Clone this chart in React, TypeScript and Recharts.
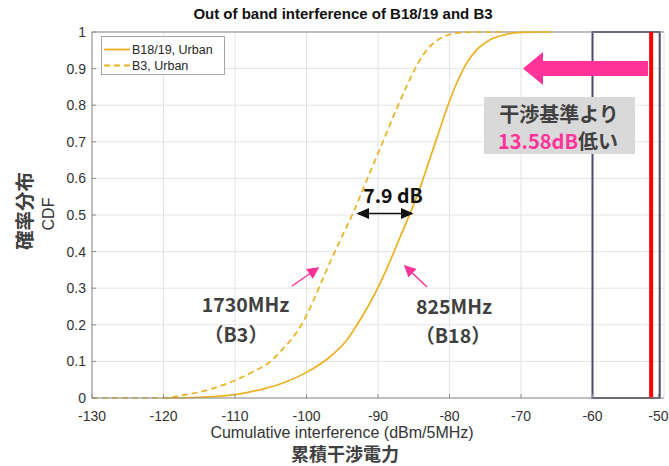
import React from "react";
import {
  LineChart,
  Line,
  XAxis,
  YAxis,
  CartesianGrid,
  ReferenceLine,
  ReferenceArea,
} from "recharts";

type CdfPoint = { x: number; cdf: number };

const xTicks = [-130, -120, -110, -100, -90, -80, -70, -60, -50];
const yTicks = [0, 0.1, 0.2, 0.3, 0.4, 0.5, 0.6, 0.7, 0.8, 0.9, 1];

// B18/19, Urban (825MHz)
const b18Urban: CdfPoint[] = [
  { x: -120, cdf: 0 },
  { x: -115, cdf: 0.002 },
  { x: -110, cdf: 0.009 },
  { x: -106, cdf: 0.025 },
  { x: -103, cdf: 0.043 },
  { x: -100, cdf: 0.07 },
  { x: -97, cdf: 0.108 },
  { x: -94.5, cdf: 0.155 },
  { x: -92.3, cdf: 0.22 },
  { x: -90.3, cdf: 0.29 },
  { x: -88.4, cdf: 0.37 },
  { x: -86.8, cdf: 0.445 },
  { x: -85.5, cdf: 0.505 },
  { x: -84.2, cdf: 0.57 },
  { x: -82.9, cdf: 0.645 },
  { x: -81.6, cdf: 0.72 },
  { x: -80.3, cdf: 0.795 },
  { x: -79, cdf: 0.86 },
  { x: -77.6, cdf: 0.915 },
  { x: -76, cdf: 0.955 },
  { x: -74.2, cdf: 0.98 },
  { x: -72, cdf: 0.994 },
  { x: -70, cdf: 0.999 },
  { x: -68, cdf: 1 },
  { x: -65.8, cdf: 1 },
];

// B3, Urban (1730MHz)
const b3Urban: CdfPoint[] = [
  { x: -130, cdf: 0 },
  { x: -120, cdf: 0 },
  { x: -117.5, cdf: 0.007 },
  { x: -115, cdf: 0.016 },
  { x: -112.5, cdf: 0.03 },
  { x: -110, cdf: 0.048 },
  { x: -107.5, cdf: 0.072 },
  { x: -105, cdf: 0.1 },
  { x: -103.5, cdf: 0.13 },
  { x: -102, cdf: 0.163 },
  { x: -100.7, cdf: 0.2 },
  { x: -99.3, cdf: 0.255 },
  { x: -98, cdf: 0.313 },
  { x: -96.5, cdf: 0.38 },
  { x: -95, cdf: 0.443 },
  { x: -93.5, cdf: 0.505 },
  { x: -92, cdf: 0.575 },
  { x: -90.5, cdf: 0.645 },
  { x: -89, cdf: 0.715 },
  { x: -87.4, cdf: 0.79 },
  { x: -85.8, cdf: 0.86 },
  { x: -84.4, cdf: 0.915 },
  { x: -83, cdf: 0.955 },
  { x: -81.5, cdf: 0.98 },
  { x: -80, cdf: 0.993 },
  { x: -78, cdf: 0.999 },
  { x: -76.5, cdf: 1 },
  { x: -72, cdf: 1 },
];

const limitLevel = -51.8; // 干渉基準

const seriesNames = ["B18/19, Urban", "B3, Urban"];
const lineColor = "#EDB120";
const axisColor = "#8c8c8c";
const tickFont = "'Liberation Sans', Arial, sans-serif";
const jpFont = "'Noto Sans CJK JP', 'Noto Sans', sans-serif";
const tickGap = 12;

const XTick = (props: any) => {
  const { x, y, payload } = props;
  const axisY = y - tickGap;
  return (
    <g>
      <line x1={x} x2={x} y1={axisY} y2={axisY - 4} stroke={axisColor} />
      <text x={x} y={y} dy="0.75em" textAnchor="middle" fontSize={14} fill="#333" fontFamily={tickFont}>
        {payload.value}
      </text>
    </g>
  );
};

const YTick = (props: any) => {
  const { x, y, payload } = props;
  const axisX = x + 6;
  return (
    <g>
      <line x1={axisX} x2={axisX + 4} y1={y} y2={y} stroke={axisColor} />
      <text x={x} y={y} dy="0.36em" textAnchor="end" fontSize={14} fill="#333" fontFamily={tickFont}>
        {payload.value}
      </text>
    </g>
  );
};

function Annotations() {
  const pink = "#FF3399";
  const dark = "#404040";
  return (
    <svg
      width={669}
      height={466}
      style={{ position: "absolute", left: 0, top: 0, pointerEvents: "none" }}
    >
      <defs>
        <marker id="blk" markerWidth="8" markerHeight="8" refX="7" refY="4" orient="auto-start-reverse">
          <path d="M0,0.5 L8,4 L0,7.5 z" fill="#111" />
        </marker>
        <marker id="pnk" markerWidth="8" markerHeight="8" refX="7" refY="4" orient="auto">
          <path d="M0,0 L8,4 L0,8 z" fill={pink} />
        </marker>
      </defs>

      {/* title */}
      <text x={343} y={19} textAnchor="middle" fontSize={15} fontWeight="bold" fill="#111" fontFamily={tickFont}>
        Out of band interference of B18/19 and B3
      </text>

      {/* legend */}
      <rect x={101.5} y={36.5} width={123} height={38} fill="#fff" stroke="#a6a6a6" />
      <line x1={104} x2={130} y1={49.5} y2={49.5} stroke={lineColor} strokeWidth={1.8} />
      <text x={132} y={53.8} fontSize={12.5} fill="#262626" fontFamily={tickFont}>{seriesNames[0]}</text>
      <line x1={104} x2={130} y1={65.5} y2={65.5} stroke={lineColor} strokeWidth={1.8} strokeDasharray="6 4" />
      <text x={132} y={69.8} fontSize={12.5} fill="#262626" fontFamily={tickFont}>{seriesNames[1]}</text>

      {/* axis labels */}
      <text x={342} y={438} textAnchor="middle" fontSize={16} fill="#333" fontFamily={tickFont}>
        Cumulative interference (dBm/5MHz)
      </text>
      <text x={345} y={461} textAnchor="middle" fontSize={18} fontWeight="bold" fill={dark} fontFamily={jpFont}>
        累積干渉電力
      </text>
      <text x={54} y={214} textAnchor="middle" fontSize={16} fill="#333" fontFamily={tickFont} transform="rotate(-90 54 214)">
        CDF
      </text>
      <text x={32} y={211} textAnchor="middle" fontSize={19.5} fontWeight="bold" fill={dark} fontFamily={jpFont} transform="rotate(-90 32 211)">
        確率分布
      </text>

      {/* 7.9 dB */}
      <line x1={358} x2={412} y1={213.5} y2={213.5} stroke="#111" strokeWidth={1.6} markerStart="url(#blk)" markerEnd="url(#blk)" />
      <text x={393} y={203} textAnchor="middle" fontSize={19.5} fontWeight="bold" fill="#111" fontFamily={jpFont}>
        7.9 dB
      </text>

      {/* band labels */}
      <line x1={292} y1={286} x2={318} y2={268} stroke={pink} strokeWidth={1.5} markerEnd="url(#pnk)" />
      <line x1={427} y1={287} x2={405} y2={266} stroke={pink} strokeWidth={1.5} markerEnd="url(#pnk)" />
      <text x={245.5} y={312} textAnchor="middle" fontSize={19.5} fontWeight="bold" fill={dark} fontFamily={jpFont}>
        1730MHz
      </text>
      <text x={236} y={342} textAnchor="middle" fontSize={19.5} fontWeight="bold" fill={dark} fontFamily={jpFont}>
        （B3）
      </text>
      <text x={454} y={314} textAnchor="middle" fontSize={19.5} fontWeight="bold" fill={dark} fontFamily={jpFont}>
        825MHz
      </text>
      <text x={453} y={343} textAnchor="middle" fontSize={19.5} fontWeight="bold" fill={dark} fontFamily={jpFont}>
        （B18）
      </text>

      {/* big arrow + note */}
      <rect x={541} y={61} width={107} height={15} fill={pink} />
      <path d="M523,68.5 L543,52 L543,85 z" fill={pink} />
      <rect x={484} y={97} width={151} height={57} fill="#d9d9d9" />
      <text x={559} y={122} textAnchor="middle" fontSize={20} fontWeight="bold" fill={dark} fontFamily={jpFont}>
        干渉基準より
      </text>
      <text x={558} y={149} textAnchor="middle" fontSize={20} fontWeight="bold" fill={dark} fontFamily={jpFont}>
        <tspan fill={pink}>13.58dB</tspan>低い
      </text>
    </svg>
  );
}

export default function App() {
  return (
    <div style={{ position: "absolute", left: 0, top: 0, width: 669, height: 466, background: "#fff" }}>
      <LineChart width={669} height={466} margin={{ top: 32, right: 5, left: 0, bottom: 38 }}>
        <CartesianGrid stroke="#e4e4e4" />
        <XAxis
          type="number"
          dataKey="x"
          domain={[-130, -50]}
          ticks={xTicks}
          height={30}
          stroke={axisColor}
          tickLine={false}
          tickSize={0}
          tickMargin={tickGap}
          tick={<XTick />}
        />
        <YAxis
          type="number"
          domain={[0, 1]}
          ticks={yTicks}
          width={92}
          stroke={axisColor}
          tickLine={false}
          tickSize={0}
          tickMargin={6}
          tick={<YTick />}
        />
        <ReferenceLine y={1} stroke={axisColor} />
        <ReferenceArea x1={-60} x2={-50.6} y1={0} y2={1} fill="none" stroke="#4b4b6e" strokeWidth={2} />
        <Line
          data={b3Urban}
          dataKey="cdf"
          name={seriesNames[1]}
          type="monotone"
          stroke={lineColor}
          strokeWidth={1.7}
          strokeDasharray="6 4"
          dot={false}
          isAnimationActive={false}
        />
        <Line
          data={b18Urban}
          dataKey="cdf"
          name={seriesNames[0]}
          type="monotone"
          stroke={lineColor}
          strokeWidth={1.7}
          dot={false}
          isAnimationActive={false}
        />
        <ReferenceLine x={limitLevel} stroke="#ff0000" strokeWidth={4} />
      </LineChart>
      <Annotations />
    </div>
  );
}
